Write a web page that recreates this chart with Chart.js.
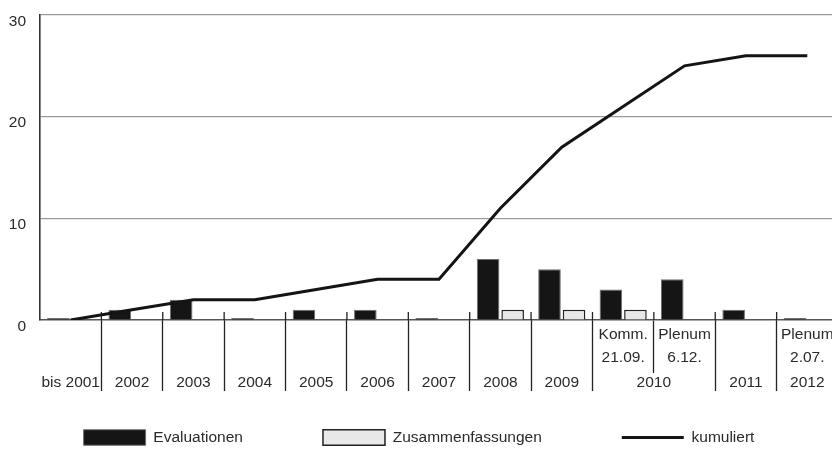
<!DOCTYPE html>
<html>
<head>
<meta charset="utf-8">
<script src="https://cdn.jsdelivr.net/npm/chart.js@4"></script>
<style>
  html, body { margin: 0; padding: 0; background: #fff; overflow: hidden; }
</style>
</head>
<body>
<canvas id="c" width="845" height="456"></canvas>
<script>
// ---- data ----
const categories = ['bis 2001', '2002', '2003', '2004', '2005', '2006', '2007', '2008', '2009',
  'Komm. 21.09.', 'Plenum 6.12.', '2011', 'Plenum 2.07.'];
const detailLabels = [[''], [''], [''], [''], [''], [''], [''], [''], [''],
  ['Komm.', '21.09.'], ['Plenum', '6.12.'], [''], ['Plenum', '2.07.']];
const yearOfCategory = ['bis 2001', '2002', '2003', '2004', '2005', '2006', '2007', '2008', '2009',
  '2010', '2010', '2011', '2012'];
const evaluationen = [0, 1, 2, 0, 1, 1, 0, 6, 5, 3, 4, 1, 0];
const zusammenfassungen = [null, null, null, null, null, null, null, 1, 1, 1, null, null, null];
const kumuliert = [0, 1, 2, 2, 3, 4, 4, 11, 17, 21, 25, 26, 26];
const seriesNames = ['Evaluationen', 'Zusammenfassungen', 'kumuliert'];
const yTickValues = [0, 10, 20, 30];

// ---- derived year groups (bottom label row) ----
const groups = [];
yearOfCategory.forEach((y, i) => {
  const g = groups[groups.length - 1];
  if (g && g.label === y) g.last = i; else groups.push({ label: y, first: i, last: i });
});
const yearTicks = [];
groups.forEach((g, k) => {
  if (k > 0) yearTicks.push({ value: g.first - 0.5, label: '' });
  yearTicks.push({ value: (g.first + g.last) / 2, label: g.label });
});

const FONT = "'Liberation Sans', Arial, sans-serif";
Chart.defaults.font.family = FONT;
Chart.defaults.font.size = 15.5;
Chart.defaults.color = '#2a2a2a';

const DARK = '#222';

const separatorNubs = {
  id: 'separatorNubs',
  afterDraw(chart) {
    const xs = chart.scales.x, bottom = chart.chartArea.bottom, ctx = chart.ctx;
    ctx.save();
    ctx.strokeStyle = DARK;
    ctx.lineWidth = 1.3;
    for (let i = 0; i < categories.length - 1; i++) {
      const px = (xs.getPixelForValue(i) + xs.getPixelForValue(i + 1)) / 2;
      ctx.beginPath();
      ctx.moveTo(px, bottom - 8);
      ctx.lineTo(px, bottom);
      ctx.stroke();
    }
    ctx.restore();
  }
};

const legendStyles = ['rect', 'rect', 'line'];

new Chart(document.getElementById('c'), {
  data: {
    labels: categories,
    datasets: [
      {
        type: 'bar', label: seriesNames[0], data: evaluationen,
        backgroundColor: '#151515', borderColor: '#6e6e6e', borderWidth: 1,
        minBarLength: 2, categoryPercentage: 0.8, barPercentage: 0.92, order: 1
      },
      {
        type: 'bar', label: seriesNames[1], data: zusammenfassungen,
        backgroundColor: '#e8e8e8', borderColor: '#222', borderWidth: 1.5,
        categoryPercentage: 0.8, barPercentage: 0.92, order: 1
      },
      {
        type: 'line', label: seriesNames[2], data: kumuliert,
        borderColor: '#141414', backgroundColor: '#141414', borderWidth: 3,
        pointRadius: 0, tension: 0, fill: false, order: 0
      }
    ]
  },
  options: {
    responsive: false,
    devicePixelRatio: 1,
    animation: false,
    layout: { padding: { left: 0, right: 7, top: 15, bottom: 0.75 } },
    plugins: {
      tooltip: { enabled: false },
      legend: {
        position: 'bottom',
        labels: {
          usePointStyle: true,
          pointStyleWidth: 62,
          boxWidth: 62,
          boxHeight: 16,
          padding: 80,
          color: '#2a2a2a',
          font: { size: 15.5 },
          sort: (a, b) => a.datasetIndex - b.datasetIndex,
          generateLabels(chart) {
            const items = Chart.defaults.plugins.legend.labels.generateLabels(chart);
            items.forEach(it => { it.pointStyle = legendStyles[it.datasetIndex]; });
            return items;
          }
        }
      }
    },
    scales: {
      x: {
        type: 'category',
        offset: true,
        grid: {
          offset: true,
          drawOnChartArea: false,
          drawTicks: true,
          tickLength: 53,
          tickWidth: 1.3,
          tickColor: ctx => {
            const i = ctx.index;
            if (typeof i !== 'number' || i < 1 || i > categories.length - 1) return 'transparent';
            return yearOfCategory[i - 1] === yearOfCategory[i] ? DARK : 'transparent';
          }
        },
        border: { display: true, color: '#555', width: 1.5 },
        ticks: {
          autoSkip: false, maxRotation: 0, minRotation: 0,
          mirror: true,
          padding: -26.25,
          font: { size: 15.5, lineHeight: 1.45 },
          callback: (v, i) => detailLabels[i]
        },
        afterFit: s => { s.height = 0; }
      },
      x2: {
        type: 'linear',
        position: 'bottom',
        min: -0.5,
        max: categories.length - 0.5,
        grid: {
          drawOnChartArea: false,
          drawTicks: true,
          tickLength: 71,
          tickWidth: 1.3,
          tickColor: ctx => (ctx.tick && ctx.tick.label === '') ? DARK : 'transparent'
        },
        border: { display: false },
        afterBuildTicks: s => { s.ticks = yearTicks.map(t => ({ value: t.value })); },
        ticks: {
          autoSkip: false, maxRotation: 0, minRotation: 0,
          mirror: true,
          padding: -73.75,
          font: { size: 15.5, lineHeight: 1.45 },
          callback: (v, i) => yearTicks[i].label
        },
        afterFit: s => { s.height = 29.75; }
      },
      y: {
        min: 0, max: 30,
        afterBuildTicks: s => { s.ticks = yTickValues.map(v => ({ value: v })); },
        grid: {
          drawTicks: true,
          tickLength: 14,
          tickColor: 'transparent',
          color: ctx => (ctx.tick && ctx.tick.value === 0) ? 'transparent' : '#9a9a9a',
          lineWidth: 1.2
        },
        border: { display: true, color: '#333', width: 1.6 },
        ticks: { padding: 0, labelOffset: 6.5, font: { size: 15.5 } },
        afterFit: s => { s.width = 40; }
      }
    }
  },
  plugins: [separatorNubs]
});
</script>
</body>
</html>
